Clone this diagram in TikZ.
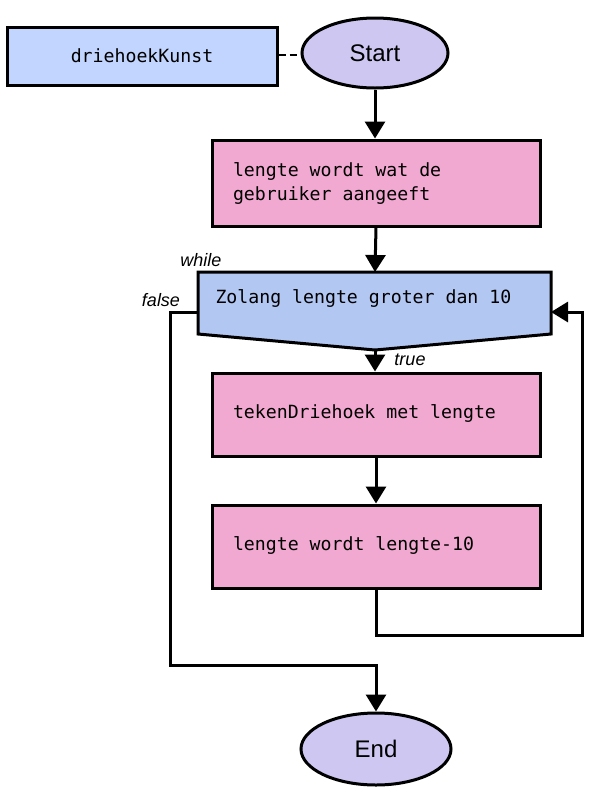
\documentclass[tikz,border=0pt]{standalone}
\usepackage{fontspec}
\setmainfont{Liberation Sans}
\newfontfamily\monof{DejaVu Sans Mono}
\usetikzlibrary{shapes.geometric,arrows.meta}
\definecolor{pinkc}{HTML}{F2A9D1}
\definecolor{bluec}{HTML}{C2D5FE}
\definecolor{whilec}{HTML}{B3C7F3}
\definecolor{lavc}{HTML}{CDC7F1}
\begin{document}
\begin{tikzpicture}[x=1pt,y=-1pt,
  line width=3pt,
  term/.style={ellipse, draw, fill=lavc, minimum width=146pt, minimum height=70pt, inner sep=0pt, font=\fontsize{24}{27}\selectfont},
  namebox/.style={rectangle, draw, fill=bluec, minimum width=270pt, minimum height=58pt, inner sep=0pt, font=\monof\fontsize{18.2}{22}\selectfont},
  proc/.style={rectangle, draw, fill=pinkc, minimum width=328pt, minimum height=83pt, text width=286pt, inner xsep=21pt, inner ysep=0pt, align=flush left, font=\monof\fontsize{18.2}{24}\selectfont},
  lab/.style={font=\itshape\fontsize{18}{20}\selectfont, inner sep=0pt},
  arr/.style={-{Triangle[width=20pt,length=17pt]}},
]
\useasboundingbox (0,0) rectangle (606,804);

\node[term] (start) at (375,53) {Start};
\node[namebox] (name) at (142,56) {driehoekKunst};
\draw[line width=2pt, dash pattern=on 7pt off 4pt] (name.east |- 0,55) -- (start.west |- 0,55);

\node[proc, minimum height=86pt] (p1) at (376,183) {lengte wordt wat de\\gebruiker aangeeft};

% while shape
\coordinate (wtop) at (375,272);
\coordinate (wbot) at (375,350);
\coordinate (wleft) at (198,312);
\coordinate (wright) at (551,312);
\draw[fill=whilec] (198,272) -- (551,272) -- (551,334) -- (wbot) -- (198,334) -- cycle;
\node[anchor=west, inner sep=0pt, font=\monof\fontsize{18.2}{22}\selectfont] (wtext) at (214,298) {Zolang lengte groter dan 10};

\node[proc] (p2) at (376,414.5) {\raisebox{5pt}{tekenDriehoek met lengte}};
\node[proc] (p3) at (376,546.5) {\raisebox{5pt}{lengte wordt lengte-10}};

\node[term, minimum width=150pt, minimum height=72pt] (end) at (376,749) {End};

\draw[arr] (start.south) -- (start.south |- p1.north);
\draw[arr] (p1.south) -- (wtop);
\draw[arr] (wbot) -- (wbot |- p2.north);
\draw[arr] (p2.south) -- (p3.north);

\coordinate (lr) at (582,635);
\draw[arr] (p3.south) -- (p3.south |- lr) -- (lr) -- (lr |- wright) -- (wright);

\coordinate (fl) at (170,665);
\draw[arr] (wleft) -| (fl) -- (fl -| end.north) -- (end.north);

\node[lab] (lwhile) at (201,260) {while};
\node[lab] (lfalse) at (161,300) {false};
\node[lab] (ltrue) at (410,360) {true};
\end{tikzpicture}
\end{document}
